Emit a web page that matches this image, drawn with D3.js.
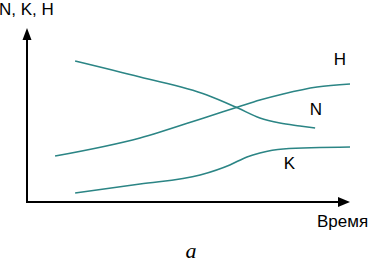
<!DOCTYPE html>
<html>
<head>
<meta charset="utf-8">
<script src="https://cdn.jsdelivr.net/npm/d3@7"></script>
<style>
    body { margin: 0; background: #fff; }
    svg { display: block; }
    .label { font-family: Arial, "Liberation Sans", sans-serif; font-size: 17px; fill: #000; }
    .curve { fill: none; stroke: #2b8585; stroke-width: 1.6; }
</style>
</head>
<body>
<svg id="chart" width="372" height="263"></svg>
<script>
// Time runs 0..100, quantities 0..100 (schematic, no ticks)
const timeN = [14.9, 35, 55.7, 65.3, 72.1, 78.3, 84.5, 89.2];
const valueN = [81.0, 71.8, 61.5, 54.0, 48.3, 45.4, 43.7, 42.5];

const timeH = [8.7, 35, 55.7, 65.3, 72.1, 79.3, 89.8, 100];
const valueH = [26.4, 36.8, 48.9, 54.6, 58.6, 62.1, 66.1, 67.8];

const timeK = [14.9, 35, 53.6, 62.8, 68.1, 72.1, 79.3, 100];
const valueK = [5.2, 10.3, 15.5, 21.3, 25.9, 28.2, 30.5, 31.6];

const seriesNames = ['N', 'H', 'K'];
const labelPos = [[87.5, 50], [95, 78.5], [79.5, 19]]; // label anchors in data units

const svg = d3.select('#chart');

const x = d3.scaleLinear().domain([0, 100]).range([27, 350]);
const y = d3.scaleLinear().domain([0, 100]).range([202, 28]);

// Axes with arrow heads
const axisColor = '#000';
svg.append('line')
    .attr('x1', x(0)).attr('y1', y(0))
    .attr('x2', x(0)).attr('y2', y(100) + 10)
    .attr('stroke', axisColor).attr('stroke-width', 2);
svg.append('path')
    .attr('d', `M${x(0)},${y(100)} L${x(0) - 4.5},${y(100) + 12} L${x(0) + 4.5},${y(100) + 12} Z`)
    .attr('fill', axisColor);

svg.append('line')
    .attr('x1', x(0) - 1).attr('y1', y(0))
    .attr('x2', x(100) - 10).attr('y2', y(0))
    .attr('stroke', axisColor).attr('stroke-width', 2);
svg.append('path')
    .attr('d', `M${x(100)},${y(0)} L${x(100) - 12},${y(0) - 5} L${x(100) - 12},${y(0) + 5} Z`)
    .attr('fill', axisColor);

// Curves
const line = d3.line()
    .x(d => x(d[0]))
    .y(d => y(d[1]))
    .curve(d3.curveMonotoneX);

const series = [
    d3.zip(timeN, valueN),
    d3.zip(timeH, valueH),
    d3.zip(timeK, valueK)
];

svg.selectAll('path.curve')
    .data(series)
    .join('path')
    .attr('class', 'curve')
    .attr('d', line);

// Curve labels
svg.selectAll('text.name')
    .data(seriesNames)
    .join('text')
    .attr('class', 'label name')
    .attr('x', (d, i) => x(labelPos[i][0]))
    .attr('y', (d, i) => y(labelPos[i][1]))
    .text(d => d);

// Axis titles
svg.append('text')
    .attr('class', 'label')
    .attr('x', -1).attr('y', 15)
    .text('N, K, H');

svg.append('text')
    .attr('class', 'label')
    .attr('x', 317).attr('y', 227)
    .text('Время');

svg.append('text')
    .attr('x', 191).attr('y', 258)
    .attr('text-anchor', 'middle')
    .attr('font-family', '"Liberation Serif", "DejaVu Serif", serif')
    .attr('font-style', 'italic')
    .attr('font-size', 22)
    .text('a');
</script>
</body>
</html>
